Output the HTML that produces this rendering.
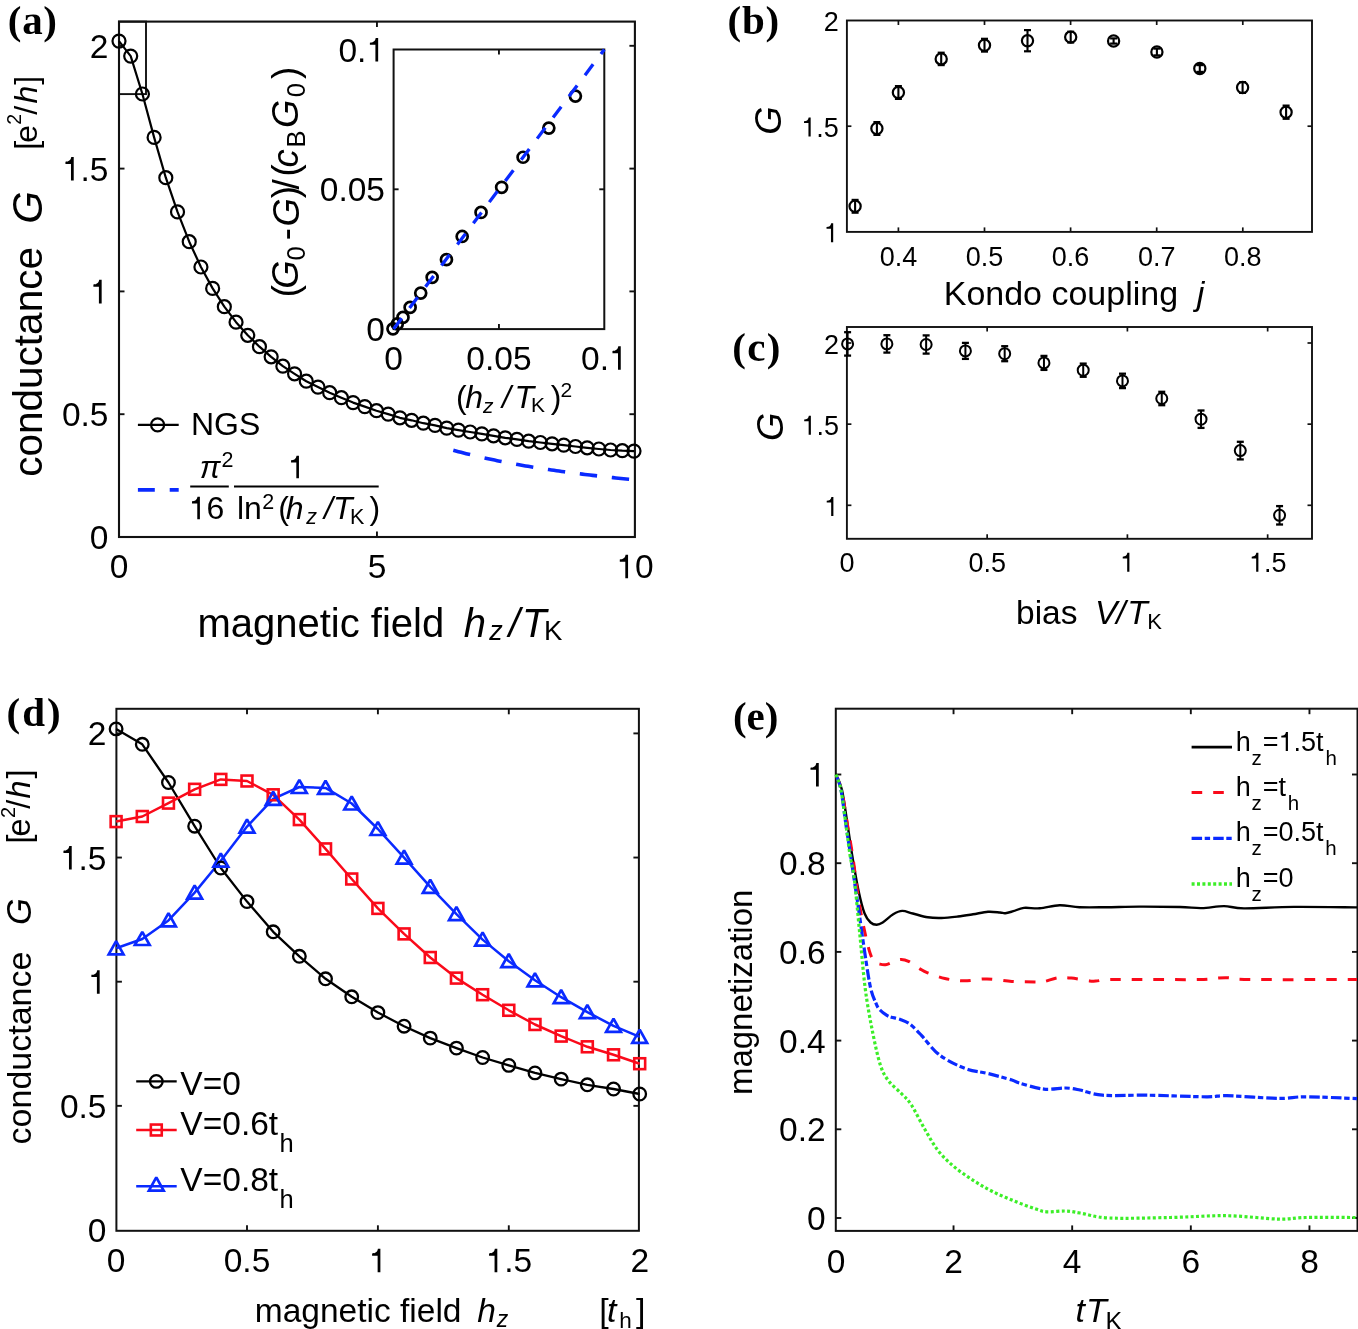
<!DOCTYPE html><html><head><meta charset="utf-8"><title>figure</title><style>html,body{margin:0;padding:0;background:#fff;overflow:hidden}svg{display:block;will-change:transform}</style></head><body>
<svg width="1358" height="1329" viewBox="0 0 1358 1329">
<defs><filter id="soft" x="0" y="0" width="1" height="1" color-interpolation-filters="sRGB"><feGaussianBlur stdDeviation="0.42"/></filter></defs>
<rect width="1358" height="1329" fill="#fff"/>
<g filter="url(#soft)">
<rect width="1358" height="1329" fill="#fff"/>
<rect x="119" y="21.6" width="515.9" height="515.4" fill="none" stroke="#111" stroke-width="2.1"/>
<line x1="376.95" y1="537" x2="376.95" y2="531.5" stroke="#111" stroke-width="1.9" />
<line x1="376.95" y1="21.6" x2="376.95" y2="27.1" stroke="#111" stroke-width="1.9" />
<line x1="119" y1="414.2" x2="124.5" y2="414.2" stroke="#111" stroke-width="1.9" />
<line x1="634.9" y1="414.2" x2="629.4" y2="414.2" stroke="#111" stroke-width="1.9" />
<line x1="119" y1="291.4" x2="124.5" y2="291.4" stroke="#111" stroke-width="1.9" />
<line x1="634.9" y1="291.4" x2="629.4" y2="291.4" stroke="#111" stroke-width="1.9" />
<line x1="119" y1="168.6" x2="124.5" y2="168.6" stroke="#111" stroke-width="1.9" />
<line x1="634.9" y1="168.6" x2="629.4" y2="168.6" stroke="#111" stroke-width="1.9" />
<line x1="119" y1="45.8" x2="124.5" y2="45.8" stroke="#111" stroke-width="1.9" />
<line x1="634.9" y1="45.8" x2="629.4" y2="45.8" stroke="#111" stroke-width="1.9" />
<text x="109.68" y="578.3" font-family='"Liberation Sans", sans-serif' font-size="33.5" fill="#000" xml:space="preserve">0</text>
<text x="367.63" y="578.3" font-family='"Liberation Sans", sans-serif' font-size="33.5" fill="#000" xml:space="preserve">5</text>
<path d="M628.06,554.75 L628.06,578.3 L625.31,578.3 L625.31,561.65 L619.79,561.65 L619.79,559.47 C622.97,559.34 625.05,558.2 625.58,554.75 Z" fill="#000"/>
<text x="634.9" y="578.3" font-family='"Liberation Sans", sans-serif' font-size="33.5" fill="#000" xml:space="preserve">0</text>
<text x="89.87" y="549" font-family='"Liberation Sans", sans-serif' font-size="33.5" fill="#000" xml:space="preserve">0</text>
<text x="61.93" y="426.2" font-family='"Liberation Sans", sans-serif' font-size="33.5" fill="#000" xml:space="preserve">0.5</text>
<path d="M101.66,279.85 L101.66,303.4 L98.91,303.4 L98.91,286.75 L93.39,286.75 L93.39,284.57 C96.57,284.44 98.65,283.3 99.18,279.85 Z" fill="#000"/>
<path d="M73.72,157.05 L73.72,180.6 L70.98,180.6 L70.98,163.95 L65.45,163.95 L65.45,161.77 C68.63,161.64 70.71,160.5 71.24,157.05 Z" fill="#000"/>
<text x="80.56" y="180.6" font-family='"Liberation Sans", sans-serif' font-size="33.5" fill="#000" xml:space="preserve">.5</text>
<text x="89.87" y="57.8" font-family='"Liberation Sans", sans-serif' font-size="33.5" fill="#000" xml:space="preserve">2</text>
<rect x="119" y="21.6" width="27" height="72.5" fill="none" stroke="#111" stroke-width="1.9"/>
<polyline points="119,41.1 130.7,56.1 142.41,94 154.11,137.4 165.82,177.7 177.52,211.9 189.23,241.7 200.93,267 212.64,288.4 224.34,306.7 236.05,322.2 247.75,335.3 259.45,346.7 271.16,356.8 282.86,366.2 294.57,373.8 306.27,381.2 317.98,387.1 329.68,392.7 341.39,397.7 353.09,402.6 364.8,406.6 376.5,410.7 388.2,414.1 399.91,417.8 411.61,420.3 423.32,423.2 435.02,425.4 446.73,428.1 458.43,430.1 470.14,432 481.84,433.9 493.55,435.8 505.25,437.8 516.95,439.4 528.66,441.2 540.36,442.5 552.07,443.8 563.77,445.1 575.48,446.5 587.18,447.8 598.89,449 610.59,450 622.3,450.7 634,451.1" fill="none" stroke="#000" stroke-width="2.2" stroke-linejoin="round" />
<circle cx="119" cy="41.1" r="6.5" fill="none" stroke="#000" stroke-width="2.2"/>
<circle cx="130.7" cy="56.1" r="6.5" fill="none" stroke="#000" stroke-width="2.2"/>
<circle cx="142.41" cy="94" r="6.5" fill="none" stroke="#000" stroke-width="2.2"/>
<circle cx="154.11" cy="137.4" r="6.5" fill="none" stroke="#000" stroke-width="2.2"/>
<circle cx="165.82" cy="177.7" r="6.5" fill="none" stroke="#000" stroke-width="2.2"/>
<circle cx="177.52" cy="211.9" r="6.5" fill="none" stroke="#000" stroke-width="2.2"/>
<circle cx="189.23" cy="241.7" r="6.5" fill="none" stroke="#000" stroke-width="2.2"/>
<circle cx="200.93" cy="267" r="6.5" fill="none" stroke="#000" stroke-width="2.2"/>
<circle cx="212.64" cy="288.4" r="6.5" fill="none" stroke="#000" stroke-width="2.2"/>
<circle cx="224.34" cy="306.7" r="6.5" fill="none" stroke="#000" stroke-width="2.2"/>
<circle cx="236.05" cy="322.2" r="6.5" fill="none" stroke="#000" stroke-width="2.2"/>
<circle cx="247.75" cy="335.3" r="6.5" fill="none" stroke="#000" stroke-width="2.2"/>
<circle cx="259.45" cy="346.7" r="6.5" fill="none" stroke="#000" stroke-width="2.2"/>
<circle cx="271.16" cy="356.8" r="6.5" fill="none" stroke="#000" stroke-width="2.2"/>
<circle cx="282.86" cy="366.2" r="6.5" fill="none" stroke="#000" stroke-width="2.2"/>
<circle cx="294.57" cy="373.8" r="6.5" fill="none" stroke="#000" stroke-width="2.2"/>
<circle cx="306.27" cy="381.2" r="6.5" fill="none" stroke="#000" stroke-width="2.2"/>
<circle cx="317.98" cy="387.1" r="6.5" fill="none" stroke="#000" stroke-width="2.2"/>
<circle cx="329.68" cy="392.7" r="6.5" fill="none" stroke="#000" stroke-width="2.2"/>
<circle cx="341.39" cy="397.7" r="6.5" fill="none" stroke="#000" stroke-width="2.2"/>
<circle cx="353.09" cy="402.6" r="6.5" fill="none" stroke="#000" stroke-width="2.2"/>
<circle cx="364.8" cy="406.6" r="6.5" fill="none" stroke="#000" stroke-width="2.2"/>
<circle cx="376.5" cy="410.7" r="6.5" fill="none" stroke="#000" stroke-width="2.2"/>
<circle cx="388.2" cy="414.1" r="6.5" fill="none" stroke="#000" stroke-width="2.2"/>
<circle cx="399.91" cy="417.8" r="6.5" fill="none" stroke="#000" stroke-width="2.2"/>
<circle cx="411.61" cy="420.3" r="6.5" fill="none" stroke="#000" stroke-width="2.2"/>
<circle cx="423.32" cy="423.2" r="6.5" fill="none" stroke="#000" stroke-width="2.2"/>
<circle cx="435.02" cy="425.4" r="6.5" fill="none" stroke="#000" stroke-width="2.2"/>
<circle cx="446.73" cy="428.1" r="6.5" fill="none" stroke="#000" stroke-width="2.2"/>
<circle cx="458.43" cy="430.1" r="6.5" fill="none" stroke="#000" stroke-width="2.2"/>
<circle cx="470.14" cy="432" r="6.5" fill="none" stroke="#000" stroke-width="2.2"/>
<circle cx="481.84" cy="433.9" r="6.5" fill="none" stroke="#000" stroke-width="2.2"/>
<circle cx="493.55" cy="435.8" r="6.5" fill="none" stroke="#000" stroke-width="2.2"/>
<circle cx="505.25" cy="437.8" r="6.5" fill="none" stroke="#000" stroke-width="2.2"/>
<circle cx="516.95" cy="439.4" r="6.5" fill="none" stroke="#000" stroke-width="2.2"/>
<circle cx="528.66" cy="441.2" r="6.5" fill="none" stroke="#000" stroke-width="2.2"/>
<circle cx="540.36" cy="442.5" r="6.5" fill="none" stroke="#000" stroke-width="2.2"/>
<circle cx="552.07" cy="443.8" r="6.5" fill="none" stroke="#000" stroke-width="2.2"/>
<circle cx="563.77" cy="445.1" r="6.5" fill="none" stroke="#000" stroke-width="2.2"/>
<circle cx="575.48" cy="446.5" r="6.5" fill="none" stroke="#000" stroke-width="2.2"/>
<circle cx="587.18" cy="447.8" r="6.5" fill="none" stroke="#000" stroke-width="2.2"/>
<circle cx="598.89" cy="449" r="6.5" fill="none" stroke="#000" stroke-width="2.2"/>
<circle cx="610.59" cy="450" r="6.5" fill="none" stroke="#000" stroke-width="2.2"/>
<circle cx="622.3" cy="450.7" r="6.5" fill="none" stroke="#000" stroke-width="2.2"/>
<circle cx="634" cy="451.1" r="6.5" fill="none" stroke="#000" stroke-width="2.2"/>
<polyline points="453.3,450.23 455.88,450.94 458.46,451.64 461.04,452.32 463.62,452.99 466.2,453.65 468.78,454.29 471.36,454.92 473.94,455.54 476.52,456.15 479.1,456.75 481.68,457.33 484.26,457.91 486.84,458.47 489.42,459.03 492,459.58 494.58,460.11 497.15,460.64 499.73,461.16 502.31,461.67 504.89,462.17 507.47,462.66 510.05,463.15 512.63,463.62 515.21,464.09 517.79,464.56 520.37,465.01 522.95,465.46 525.53,465.9 528.11,466.33 530.69,466.76 533.27,467.18 535.85,467.59 538.43,468 541.01,468.4 543.59,468.8 546.17,469.19 548.74,469.57 551.32,469.95 553.9,470.33 556.48,470.7 559.06,471.06 561.64,471.42 564.22,471.77 566.8,472.12 569.38,472.46 571.96,472.8 574.54,473.14 577.12,473.47 579.7,473.79 582.28,474.11 584.86,474.43 587.44,474.74 590.02,475.05 592.6,475.36 595.18,475.66 597.76,475.95 600.33,476.25 602.91,476.54 605.49,476.82 608.07,477.11 610.65,477.38 613.23,477.66 615.81,477.93 618.39,478.2 620.97,478.47 623.55,478.73 626.13,478.99 628.71,479.25 631.29,479.5 633.87,479.75" fill="none" stroke="#0a2aff" stroke-width="3.6" stroke-linejoin="round" stroke-dasharray="17.4 14.8"/>
<line x1="137.9" y1="424.9" x2="178.7" y2="424.9" stroke="#000" stroke-width="2.2" />
<circle cx="157.6" cy="424.9" r="6.5" fill="none" stroke="#000" stroke-width="2.2"/>
<text x="190.97" y="435.3" font-family='"Liberation Sans", sans-serif' font-size="32" fill="#000" xml:space="preserve">NGS</text>
<line x1="137.9" y1="489.9" x2="178.7" y2="489.9" stroke="#0a2aff" stroke-width="3.6" stroke-dasharray="16.9 14.9"/>
<line x1="190.2" y1="486.5" x2="228.8" y2="486.5" stroke="#000" stroke-width="2.0" />
<text x="199.82" y="477.5" font-family='"Liberation Sans", sans-serif' font-size="31" fill="#000" font-style="italic" xml:space="preserve">π</text>
<text x="221.52" y="466.6" font-family='"Liberation Sans", sans-serif' font-size="21.5" fill="#000" xml:space="preserve">2</text>
<path d="M199.9,496.8 L199.9,519.3 L197.28,519.3 L197.28,503.4 L192,503.4 L192,501.32 C195.04,501.19 197.02,500.1 197.54,496.8 Z" fill="#000"/>
<text x="206.44" y="519.3" font-family='"Liberation Sans", sans-serif' font-size="32" fill="#000" xml:space="preserve">6</text>
<line x1="234" y1="486.5" x2="378.7" y2="486.5" stroke="#000" stroke-width="2.0" />
<path d="M298.95,455.8 L298.95,478.3 L296.33,478.3 L296.33,462.4 L291.05,462.4 L291.05,460.32 C294.09,460.19 296.07,459.1 296.58,455.8 Z" fill="#000"/>
<text x="236.94" y="519.3" font-family='"Liberation Sans", sans-serif' font-size="32" fill="#000" xml:space="preserve">ln</text>
<text x="262.32" y="509.3" font-family='"Liberation Sans", sans-serif' font-size="21.5" fill="#000" xml:space="preserve">2</text>
<text x="278.22" y="519.3" font-family='"Liberation Sans", sans-serif' font-size="32" fill="#000" xml:space="preserve">(</text>
<text x="285.77" y="519.3" font-family='"Liberation Sans", sans-serif' font-size="32" fill="#000" font-style="italic" xml:space="preserve">h</text>
<text x="306.33" y="523.9" font-family='"Liberation Sans", sans-serif' font-size="21.5" fill="#000" font-style="italic" xml:space="preserve">z</text>
<text x="323.91" y="519.3" font-family='"Liberation Sans", sans-serif' font-size="32" fill="#000" font-style="italic" xml:space="preserve">/</text>
<text x="332.93" y="519.3" font-family='"Liberation Sans", sans-serif' font-size="32" fill="#000" font-style="italic" xml:space="preserve">T</text>
<text x="349.94" y="523.9" font-family='"Liberation Sans", sans-serif' font-size="21.5" fill="#000" xml:space="preserve">K</text>
<text x="369.61" y="519.3" font-family='"Liberation Sans", sans-serif' font-size="32" fill="#000" xml:space="preserve">)</text>
<text x="197.44" y="636.5" font-family='"Liberation Sans", sans-serif' font-size="40" fill="#000" xml:space="preserve">magnetic field</text>
<text x="463.74" y="636.5" font-family='"Liberation Sans", sans-serif' font-size="40" fill="#000" font-style="italic" xml:space="preserve">h</text>
<text x="489.36" y="639.5" font-family='"Liberation Sans", sans-serif' font-size="27" fill="#000" font-style="italic" xml:space="preserve">z</text>
<text x="508.77" y="636.5" font-family='"Liberation Sans", sans-serif' font-size="40" fill="#000" font-style="italic" xml:space="preserve">/</text>
<text x="522.01" y="636.5" font-family='"Liberation Sans", sans-serif' font-size="40" fill="#000" font-style="italic" xml:space="preserve">T</text>
<text x="543.94" y="639.5" font-family='"Liberation Sans", sans-serif' font-size="27.5" fill="#000" xml:space="preserve">K</text>
<g transform="rotate(-90 41.7 476.72)">
<text x="41.7" y="476.72" font-family='"Liberation Sans", sans-serif' font-size="40.5" fill="#000" xml:space="preserve">conductance</text>
</g>
<g transform="rotate(-90 41.8 223.67)">
<text x="41.8" y="223.67" font-family='"Liberation Sans", sans-serif' font-size="42" fill="#000" font-style="italic" xml:space="preserve">G</text>
</g>
<g transform="rotate(-90 36.8 149.78)">
<text x="36.8" y="149.78" font-family='"Liberation Sans", sans-serif' font-size="32" fill="#000" xml:space="preserve">[</text>
</g>
<g transform="rotate(-90 36.8 142.86)">
<text x="36.8" y="142.86" font-family='"Liberation Sans", sans-serif' font-size="32" fill="#000" xml:space="preserve">e</text>
</g>
<g transform="rotate(-90 20.9 124.68)">
<text x="20.9" y="124.68" font-family='"Liberation Sans", sans-serif' font-size="19.5" fill="#000" xml:space="preserve">2</text>
</g>
<g transform="rotate(-90 36.8 114.7)">
<text x="36.8" y="114.7" font-family='"Liberation Sans", sans-serif' font-size="32" fill="#000" xml:space="preserve">/</text>
</g>
<g transform="rotate(-90 36.8 103.53)">
<text x="36.8" y="103.53" font-family='"Liberation Sans", sans-serif' font-size="32" fill="#000" font-style="italic" xml:space="preserve">h</text>
</g>
<g transform="rotate(-90 36.8 84.85)">
<text x="36.8" y="84.85" font-family='"Liberation Sans", sans-serif' font-size="32" fill="#000" xml:space="preserve">]</text>
</g>
<text x="7.8" y="33.6" font-family='"Liberation Serif", serif' font-size="41" fill="#000" font-weight="bold" letter-spacing="0.7" xml:space="preserve">(a)</text>
<rect x="393.6" y="49.5" width="210.7" height="279.6" fill="#fff" stroke="#111" stroke-width="2.0"/>
<line x1="498.95" y1="329.1" x2="498.95" y2="324.1" stroke="#111" stroke-width="1.9" />
<line x1="498.95" y1="49.5" x2="498.95" y2="54.5" stroke="#111" stroke-width="1.9" />
<line x1="393.6" y1="189.3" x2="398.6" y2="189.3" stroke="#111" stroke-width="1.9" />
<line x1="604.3" y1="189.3" x2="599.3" y2="189.3" stroke="#111" stroke-width="1.9" />
<circle cx="392.97" cy="328.84" r="5.5" fill="none" stroke="#000" stroke-width="2.7"/>
<circle cx="397.26" cy="323.97" r="5.5" fill="none" stroke="#000" stroke-width="2.7"/>
<circle cx="402.98" cy="317.4" r="5.5" fill="none" stroke="#000" stroke-width="2.7"/>
<circle cx="410.13" cy="307.39" r="5.5" fill="none" stroke="#000" stroke-width="2.7"/>
<circle cx="420.71" cy="293.09" r="5.5" fill="none" stroke="#000" stroke-width="2.7"/>
<circle cx="432.15" cy="277.36" r="5.5" fill="none" stroke="#000" stroke-width="2.7"/>
<circle cx="446.45" cy="259.63" r="5.5" fill="none" stroke="#000" stroke-width="2.7"/>
<circle cx="462.17" cy="236.47" r="5.5" fill="none" stroke="#000" stroke-width="2.7"/>
<circle cx="481.05" cy="212.45" r="5.5" fill="none" stroke="#000" stroke-width="2.7"/>
<circle cx="501.64" cy="187.29" r="5.5" fill="none" stroke="#000" stroke-width="2.7"/>
<circle cx="523.08" cy="157.26" r="5.5" fill="none" stroke="#000" stroke-width="2.7"/>
<circle cx="548.82" cy="128.09" r="5.5" fill="none" stroke="#000" stroke-width="2.7"/>
<circle cx="575.41" cy="96.07" r="5.5" fill="none" stroke="#000" stroke-width="2.7"/>
<line x1="393.6" y1="329.1" x2="604.3" y2="49.5" stroke="#0a2aff" stroke-width="3.3" stroke-dasharray="13.5 13"/>
<text x="384.28" y="369.8" font-family='"Liberation Sans", sans-serif' font-size="33.5" fill="#000" xml:space="preserve">0</text>
<text x="466.35" y="369.8" font-family='"Liberation Sans", sans-serif' font-size="33.5" fill="#000" xml:space="preserve">0.05</text>
<text x="581.02" y="369.8" font-family='"Liberation Sans", sans-serif' font-size="33.5" fill="#000" xml:space="preserve">0.</text>
<path d="M620.75,346.25 L620.75,369.8 L618,369.8 L618,353.15 L612.47,353.15 L612.47,350.97 C615.65,350.84 617.73,349.7 618.27,346.25 Z" fill="#000"/>
<text x="366.37" y="341.1" font-family='"Liberation Sans", sans-serif' font-size="33.5" fill="#000" xml:space="preserve">0</text>
<text x="319.8" y="201.3" font-family='"Liberation Sans", sans-serif' font-size="33.5" fill="#000" xml:space="preserve">0.05</text>
<text x="338.43" y="61.5" font-family='"Liberation Sans", sans-serif' font-size="33.5" fill="#000" xml:space="preserve">0.</text>
<path d="M378.16,37.95 L378.16,61.5 L375.41,61.5 L375.41,44.85 L369.89,44.85 L369.89,42.67 C373.07,42.54 375.15,41.4 375.68,37.95 Z" fill="#000"/>
<text x="456.12" y="408.1" font-family='"Liberation Sans", sans-serif' font-size="32" fill="#000" xml:space="preserve">(</text>
<text x="465.17" y="408.1" font-family='"Liberation Sans", sans-serif' font-size="32" fill="#000" font-style="italic" xml:space="preserve">h</text>
<text x="483.12" y="412.9" font-family='"Liberation Sans", sans-serif' font-size="21" fill="#000" font-style="italic" xml:space="preserve">z</text>
<text x="502.01" y="408.1" font-family='"Liberation Sans", sans-serif' font-size="32" fill="#000" font-style="italic" xml:space="preserve">/</text>
<text x="514.52" y="408.1" font-family='"Liberation Sans", sans-serif' font-size="32" fill="#000" font-style="italic" xml:space="preserve">T</text>
<text x="530.98" y="412.3" font-family='"Liberation Sans", sans-serif' font-size="21" fill="#000" xml:space="preserve">K</text>
<text x="550.71" y="408.1" font-family='"Liberation Sans", sans-serif' font-size="32" fill="#000" xml:space="preserve">)</text>
<text x="560.44" y="396.6" font-family='"Liberation Sans", sans-serif' font-size="21" fill="#000" xml:space="preserve">2</text>
<g transform="rotate(-90 298.5 297.36)">
<text x="298.5" y="297.36" font-family='"Liberation Sans", sans-serif' font-size="36.5" fill="#000" xml:space="preserve">(</text>
</g>
<g transform="rotate(-90 298.5 288.7)">
<text x="298.5" y="288.7" font-family='"Liberation Sans", sans-serif' font-size="36.5" fill="#000" font-style="italic" xml:space="preserve">G</text>
</g>
<g transform="rotate(-90 305.3 260.4)">
<text x="305.3" y="260.4" font-family='"Liberation Sans", sans-serif' font-size="25.5" fill="#000" xml:space="preserve">0</text>
</g>
<g transform="rotate(-90 298.5 240.32)">
<text x="298.5" y="240.32" font-family='"Liberation Sans", sans-serif' font-size="36.5" fill="#000" xml:space="preserve">-</text>
</g>
<g transform="rotate(-90 298.5 226.5)">
<text x="298.5" y="226.5" font-family='"Liberation Sans", sans-serif' font-size="36.5" fill="#000" font-style="italic" xml:space="preserve">G</text>
</g>
<g transform="rotate(-90 298.5 198.21)">
<text x="298.5" y="198.21" font-family='"Liberation Sans", sans-serif' font-size="36.5" fill="#000" xml:space="preserve">)</text>
</g>
<g transform="rotate(-90 298.5 189.5)">
<text x="298.5" y="189.5" font-family='"Liberation Sans", sans-serif' font-size="36.5" fill="#000" xml:space="preserve">/</text>
</g>
<g transform="rotate(-90 298.5 176.46)">
<text x="298.5" y="176.46" font-family='"Liberation Sans", sans-serif' font-size="36.5" fill="#000" xml:space="preserve">(</text>
</g>
<g transform="rotate(-90 298.5 167.49)">
<text x="298.5" y="167.49" font-family='"Liberation Sans", sans-serif' font-size="36.5" fill="#000" font-style="italic" xml:space="preserve">c</text>
</g>
<g transform="rotate(-90 305.5 147.39)">
<text x="305.5" y="147.39" font-family='"Liberation Sans", sans-serif' font-size="25.5" fill="#000" xml:space="preserve">B</text>
</g>
<g transform="rotate(-90 298.5 128.1)">
<text x="298.5" y="128.1" font-family='"Liberation Sans", sans-serif' font-size="36.5" fill="#000" font-style="italic" xml:space="preserve">G</text>
</g>
<g transform="rotate(-90 305.3 97.3)">
<text x="305.3" y="97.3" font-family='"Liberation Sans", sans-serif' font-size="25.5" fill="#000" xml:space="preserve">0</text>
</g>
<g transform="rotate(-90 298.5 79.11)">
<text x="298.5" y="79.11" font-family='"Liberation Sans", sans-serif' font-size="36.5" fill="#000" xml:space="preserve">)</text>
</g>
<rect x="846.9" y="20.5" width="465.1" height="211.4" fill="none" stroke="#111" stroke-width="1.9"/>
<line x1="898.4" y1="231.9" x2="898.4" y2="227.4" stroke="#111" stroke-width="1.7" />
<line x1="898.4" y1="20.5" x2="898.4" y2="25" stroke="#111" stroke-width="1.7" />
<line x1="984.5" y1="231.9" x2="984.5" y2="227.4" stroke="#111" stroke-width="1.7" />
<line x1="984.5" y1="20.5" x2="984.5" y2="25" stroke="#111" stroke-width="1.7" />
<line x1="1070.6" y1="231.9" x2="1070.6" y2="227.4" stroke="#111" stroke-width="1.7" />
<line x1="1070.6" y1="20.5" x2="1070.6" y2="25" stroke="#111" stroke-width="1.7" />
<line x1="1156.7" y1="231.9" x2="1156.7" y2="227.4" stroke="#111" stroke-width="1.7" />
<line x1="1156.7" y1="20.5" x2="1156.7" y2="25" stroke="#111" stroke-width="1.7" />
<line x1="1242.8" y1="231.9" x2="1242.8" y2="227.4" stroke="#111" stroke-width="1.7" />
<line x1="1242.8" y1="20.5" x2="1242.8" y2="25" stroke="#111" stroke-width="1.7" />
<line x1="846.9" y1="126.2" x2="851.4" y2="126.2" stroke="#111" stroke-width="1.7" />
<line x1="1312" y1="126.2" x2="1307.5" y2="126.2" stroke="#111" stroke-width="1.7" />
<text x="879.63" y="265.5" font-family='"Liberation Sans", sans-serif' font-size="27" fill="#000" xml:space="preserve">0.4</text>
<text x="965.73" y="265.5" font-family='"Liberation Sans", sans-serif' font-size="27" fill="#000" xml:space="preserve">0.5</text>
<text x="1051.83" y="265.5" font-family='"Liberation Sans", sans-serif' font-size="27" fill="#000" xml:space="preserve">0.6</text>
<text x="1137.93" y="265.5" font-family='"Liberation Sans", sans-serif' font-size="27" fill="#000" xml:space="preserve">0.7</text>
<text x="1224.03" y="265.5" font-family='"Liberation Sans", sans-serif' font-size="27" fill="#000" xml:space="preserve">0.8</text>
<path d="M833.19,223.22 L833.19,242.2 L830.97,242.2 L830.97,228.78 L826.52,228.78 L826.52,227.03 C829.08,226.92 830.76,226 831.19,223.22 Z" fill="#000"/>
<path d="M810.67,117.52 L810.67,136.5 L808.46,136.5 L808.46,123.08 L804,123.08 L804,121.33 C806.57,121.22 808.24,120.3 808.67,117.52 Z" fill="#000"/>
<text x="816.18" y="136.5" font-family='"Liberation Sans", sans-serif' font-size="27" fill="#000" xml:space="preserve">.5</text>
<text x="823.68" y="30.8" font-family='"Liberation Sans", sans-serif' font-size="27" fill="#000" xml:space="preserve">2</text>
<line x1="855.1" y1="199.9" x2="855.1" y2="212.7" stroke="#000" stroke-width="2.1" />
<line x1="851.6" y1="199.9" x2="858.6" y2="199.9" stroke="#000" stroke-width="2.2" />
<line x1="851.6" y1="212.7" x2="858.6" y2="212.7" stroke="#000" stroke-width="2.2" />
<circle cx="855.1" cy="206.3" r="5.6" fill="none" stroke="#000" stroke-width="2.2"/>
<line x1="876.9" y1="122.1" x2="876.9" y2="134.9" stroke="#000" stroke-width="2.1" />
<line x1="873.4" y1="122.1" x2="880.4" y2="122.1" stroke="#000" stroke-width="2.2" />
<line x1="873.4" y1="134.9" x2="880.4" y2="134.9" stroke="#000" stroke-width="2.2" />
<circle cx="876.9" cy="128.5" r="5.6" fill="none" stroke="#000" stroke-width="2.2"/>
<line x1="898.4" y1="86.1" x2="898.4" y2="98.9" stroke="#000" stroke-width="2.1" />
<line x1="894.9" y1="86.1" x2="901.9" y2="86.1" stroke="#000" stroke-width="2.2" />
<line x1="894.9" y1="98.9" x2="901.9" y2="98.9" stroke="#000" stroke-width="2.2" />
<circle cx="898.4" cy="92.5" r="5.6" fill="none" stroke="#000" stroke-width="2.2"/>
<line x1="941.2" y1="52.7" x2="941.2" y2="65.1" stroke="#000" stroke-width="2.1" />
<line x1="937.7" y1="52.7" x2="944.7" y2="52.7" stroke="#000" stroke-width="2.2" />
<line x1="937.7" y1="65.1" x2="944.7" y2="65.1" stroke="#000" stroke-width="2.2" />
<circle cx="941.2" cy="58.9" r="5.6" fill="none" stroke="#000" stroke-width="2.2"/>
<line x1="984.5" y1="38.8" x2="984.5" y2="51.6" stroke="#000" stroke-width="2.1" />
<line x1="981" y1="38.8" x2="988" y2="38.8" stroke="#000" stroke-width="2.2" />
<line x1="981" y1="51.6" x2="988" y2="51.6" stroke="#000" stroke-width="2.2" />
<circle cx="984.5" cy="45.2" r="5.6" fill="none" stroke="#000" stroke-width="2.2"/>
<line x1="1027.5" y1="30.1" x2="1027.5" y2="51.3" stroke="#000" stroke-width="2.1" />
<line x1="1024" y1="30.1" x2="1031" y2="30.1" stroke="#000" stroke-width="2.2" />
<line x1="1024" y1="51.3" x2="1031" y2="51.3" stroke="#000" stroke-width="2.2" />
<circle cx="1027.5" cy="40.7" r="5.6" fill="none" stroke="#000" stroke-width="2.2"/>
<line x1="1070.7" y1="31.7" x2="1070.7" y2="42.5" stroke="#000" stroke-width="2.1" />
<line x1="1067.2" y1="31.7" x2="1074.2" y2="31.7" stroke="#000" stroke-width="2.2" />
<line x1="1067.2" y1="42.5" x2="1074.2" y2="42.5" stroke="#000" stroke-width="2.2" />
<circle cx="1070.7" cy="37.1" r="5.6" fill="none" stroke="#000" stroke-width="2.2"/>
<line x1="1113.6" y1="38.4" x2="1113.6" y2="43.6" stroke="#000" stroke-width="2.1" />
<line x1="1110.1" y1="38.4" x2="1117.1" y2="38.4" stroke="#000" stroke-width="2.2" />
<line x1="1110.1" y1="43.6" x2="1117.1" y2="43.6" stroke="#000" stroke-width="2.2" />
<circle cx="1113.6" cy="41" r="5.6" fill="none" stroke="#000" stroke-width="2.2"/>
<line x1="1156.9" y1="48.6" x2="1156.9" y2="55.4" stroke="#000" stroke-width="2.1" />
<line x1="1153.4" y1="48.6" x2="1160.4" y2="48.6" stroke="#000" stroke-width="2.2" />
<line x1="1153.4" y1="55.4" x2="1160.4" y2="55.4" stroke="#000" stroke-width="2.2" />
<circle cx="1156.9" cy="52" r="5.6" fill="none" stroke="#000" stroke-width="2.2"/>
<line x1="1199.8" y1="65.1" x2="1199.8" y2="71.9" stroke="#000" stroke-width="2.1" />
<line x1="1196.3" y1="65.1" x2="1203.3" y2="65.1" stroke="#000" stroke-width="2.2" />
<line x1="1196.3" y1="71.9" x2="1203.3" y2="71.9" stroke="#000" stroke-width="2.2" />
<circle cx="1199.8" cy="68.5" r="5.6" fill="none" stroke="#000" stroke-width="2.2"/>
<line x1="1242.6" y1="82.1" x2="1242.6" y2="92.9" stroke="#000" stroke-width="2.1" />
<line x1="1239.1" y1="82.1" x2="1246.1" y2="82.1" stroke="#000" stroke-width="2.2" />
<line x1="1239.1" y1="92.9" x2="1246.1" y2="92.9" stroke="#000" stroke-width="2.2" />
<circle cx="1242.6" cy="87.5" r="5.6" fill="none" stroke="#000" stroke-width="2.2"/>
<line x1="1286.1" y1="105.6" x2="1286.1" y2="118.8" stroke="#000" stroke-width="2.1" />
<line x1="1282.6" y1="105.6" x2="1289.6" y2="105.6" stroke="#000" stroke-width="2.2" />
<line x1="1282.6" y1="118.8" x2="1289.6" y2="118.8" stroke="#000" stroke-width="2.2" />
<circle cx="1286.1" cy="112.2" r="5.6" fill="none" stroke="#000" stroke-width="2.2"/>
<text x="943.71" y="305.4" font-family='"Liberation Sans", sans-serif' font-size="34" fill="#000" xml:space="preserve">Kondo coupling</text>
<text x="1196.7" y="305.4" font-family='"Liberation Sans", sans-serif' font-size="34" fill="#000" font-style="italic" xml:space="preserve">j</text>
<g transform="rotate(-90 781.2 134.8)">
<text x="781.2" y="134.8" font-family='"Liberation Sans", sans-serif' font-size="36.5" fill="#000" font-style="italic" xml:space="preserve">G</text>
</g>
<text x="727.5" y="33.8" font-family='"Liberation Serif", serif' font-size="41" fill="#000" font-weight="bold" letter-spacing="0.8" xml:space="preserve">(b)</text>
<rect x="846.9" y="327" width="465.1" height="211.8" fill="none" stroke="#111" stroke-width="1.9"/>
<line x1="987.15" y1="538.8" x2="987.15" y2="534.3" stroke="#111" stroke-width="1.7" />
<line x1="987.15" y1="327" x2="987.15" y2="331.5" stroke="#111" stroke-width="1.7" />
<line x1="1127.4" y1="538.8" x2="1127.4" y2="534.3" stroke="#111" stroke-width="1.7" />
<line x1="1127.4" y1="327" x2="1127.4" y2="331.5" stroke="#111" stroke-width="1.7" />
<line x1="1267.65" y1="538.8" x2="1267.65" y2="534.3" stroke="#111" stroke-width="1.7" />
<line x1="1267.65" y1="327" x2="1267.65" y2="331.5" stroke="#111" stroke-width="1.7" />
<line x1="846.9" y1="505.3" x2="851.4" y2="505.3" stroke="#111" stroke-width="1.7" />
<line x1="1312" y1="505.3" x2="1307.5" y2="505.3" stroke="#111" stroke-width="1.7" />
<line x1="846.9" y1="424.15" x2="851.4" y2="424.15" stroke="#111" stroke-width="1.7" />
<line x1="1312" y1="424.15" x2="1307.5" y2="424.15" stroke="#111" stroke-width="1.7" />
<line x1="846.9" y1="343" x2="851.4" y2="343" stroke="#111" stroke-width="1.7" />
<line x1="1312" y1="343" x2="1307.5" y2="343" stroke="#111" stroke-width="1.7" />
<text x="839.39" y="571.8" font-family='"Liberation Sans", sans-serif' font-size="27" fill="#000" xml:space="preserve">0</text>
<text x="968.38" y="571.8" font-family='"Liberation Sans", sans-serif' font-size="27" fill="#000" xml:space="preserve">0.5</text>
<path d="M1129.4,552.82 L1129.4,571.8 L1127.18,571.8 L1127.18,558.38 L1122.73,558.38 L1122.73,556.63 C1125.29,556.52 1126.97,555.6 1127.4,552.82 Z" fill="#000"/>
<path d="M1258.39,552.82 L1258.39,571.8 L1256.17,571.8 L1256.17,558.38 L1251.72,558.38 L1251.72,556.63 C1254.28,556.52 1255.96,555.6 1256.39,552.82 Z" fill="#000"/>
<text x="1263.9" y="571.8" font-family='"Liberation Sans", sans-serif' font-size="27" fill="#000" xml:space="preserve">.5</text>
<path d="M833.39,496.92 L833.39,515.9 L831.17,515.9 L831.17,502.48 L826.72,502.48 L826.72,500.73 C829.28,500.62 830.96,499.7 831.39,496.92 Z" fill="#000"/>
<path d="M810.87,415.77 L810.87,434.75 L808.66,434.75 L808.66,421.33 L804.2,421.33 L804.2,419.58 C806.77,419.47 808.44,418.55 808.87,415.77 Z" fill="#000"/>
<text x="816.38" y="434.75" font-family='"Liberation Sans", sans-serif' font-size="27" fill="#000" xml:space="preserve">.5</text>
<text x="823.88" y="353.6" font-family='"Liberation Sans", sans-serif' font-size="27" fill="#000" xml:space="preserve">2</text>
<line x1="847.6" y1="332.2" x2="847.6" y2="355.6" stroke="#000" stroke-width="2.0" />
<line x1="844.1" y1="332.2" x2="851.1" y2="332.2" stroke="#000" stroke-width="2.3" />
<line x1="844.1" y1="355.6" x2="851.1" y2="355.6" stroke="#000" stroke-width="2.3" />
<circle cx="847.6" cy="343.9" r="5.5" fill="none" stroke="#000" stroke-width="2.0"/>
<line x1="886.87" y1="335.2" x2="886.87" y2="352.6" stroke="#000" stroke-width="2.0" />
<line x1="883.37" y1="335.2" x2="890.37" y2="335.2" stroke="#000" stroke-width="2.3" />
<line x1="883.37" y1="352.6" x2="890.37" y2="352.6" stroke="#000" stroke-width="2.3" />
<circle cx="886.87" cy="343.9" r="5.5" fill="none" stroke="#000" stroke-width="2.0"/>
<line x1="926.14" y1="335.4" x2="926.14" y2="353.6" stroke="#000" stroke-width="2.0" />
<line x1="922.64" y1="335.4" x2="929.64" y2="335.4" stroke="#000" stroke-width="2.3" />
<line x1="922.64" y1="353.6" x2="929.64" y2="353.6" stroke="#000" stroke-width="2.3" />
<circle cx="926.14" cy="344.5" r="5.5" fill="none" stroke="#000" stroke-width="2.0"/>
<line x1="965.41" y1="342.9" x2="965.41" y2="358.9" stroke="#000" stroke-width="2.0" />
<line x1="961.91" y1="342.9" x2="968.91" y2="342.9" stroke="#000" stroke-width="2.3" />
<line x1="961.91" y1="358.9" x2="968.91" y2="358.9" stroke="#000" stroke-width="2.3" />
<circle cx="965.41" cy="350.9" r="5.5" fill="none" stroke="#000" stroke-width="2.0"/>
<line x1="1004.68" y1="346.2" x2="1004.68" y2="361.2" stroke="#000" stroke-width="2.0" />
<line x1="1001.18" y1="346.2" x2="1008.18" y2="346.2" stroke="#000" stroke-width="2.3" />
<line x1="1001.18" y1="361.2" x2="1008.18" y2="361.2" stroke="#000" stroke-width="2.3" />
<circle cx="1004.68" cy="353.7" r="5.5" fill="none" stroke="#000" stroke-width="2.0"/>
<line x1="1043.95" y1="355.9" x2="1043.95" y2="369.9" stroke="#000" stroke-width="2.0" />
<line x1="1040.45" y1="355.9" x2="1047.45" y2="355.9" stroke="#000" stroke-width="2.3" />
<line x1="1040.45" y1="369.9" x2="1047.45" y2="369.9" stroke="#000" stroke-width="2.3" />
<circle cx="1043.95" cy="362.9" r="5.5" fill="none" stroke="#000" stroke-width="2.0"/>
<line x1="1083.22" y1="363.6" x2="1083.22" y2="376.8" stroke="#000" stroke-width="2.0" />
<line x1="1079.72" y1="363.6" x2="1086.72" y2="363.6" stroke="#000" stroke-width="2.3" />
<line x1="1079.72" y1="376.8" x2="1086.72" y2="376.8" stroke="#000" stroke-width="2.3" />
<circle cx="1083.22" cy="370.2" r="5.5" fill="none" stroke="#000" stroke-width="2.0"/>
<line x1="1122.49" y1="373.7" x2="1122.49" y2="388.1" stroke="#000" stroke-width="2.0" />
<line x1="1118.99" y1="373.7" x2="1125.99" y2="373.7" stroke="#000" stroke-width="2.3" />
<line x1="1118.99" y1="388.1" x2="1125.99" y2="388.1" stroke="#000" stroke-width="2.3" />
<circle cx="1122.49" cy="380.9" r="5.5" fill="none" stroke="#000" stroke-width="2.0"/>
<line x1="1161.76" y1="391.8" x2="1161.76" y2="405.2" stroke="#000" stroke-width="2.0" />
<line x1="1158.26" y1="391.8" x2="1165.26" y2="391.8" stroke="#000" stroke-width="2.3" />
<line x1="1158.26" y1="405.2" x2="1165.26" y2="405.2" stroke="#000" stroke-width="2.3" />
<circle cx="1161.76" cy="398.5" r="5.5" fill="none" stroke="#000" stroke-width="2.0"/>
<line x1="1201.03" y1="410.5" x2="1201.03" y2="427.9" stroke="#000" stroke-width="2.0" />
<line x1="1197.53" y1="410.5" x2="1204.53" y2="410.5" stroke="#000" stroke-width="2.3" />
<line x1="1197.53" y1="427.9" x2="1204.53" y2="427.9" stroke="#000" stroke-width="2.3" />
<circle cx="1201.03" cy="419.2" r="5.5" fill="none" stroke="#000" stroke-width="2.0"/>
<line x1="1240.3" y1="441.8" x2="1240.3" y2="459.4" stroke="#000" stroke-width="2.0" />
<line x1="1236.8" y1="441.8" x2="1243.8" y2="441.8" stroke="#000" stroke-width="2.3" />
<line x1="1236.8" y1="459.4" x2="1243.8" y2="459.4" stroke="#000" stroke-width="2.3" />
<circle cx="1240.3" cy="450.6" r="5.5" fill="none" stroke="#000" stroke-width="2.0"/>
<line x1="1279.57" y1="506.1" x2="1279.57" y2="524.5" stroke="#000" stroke-width="2.0" />
<line x1="1276.07" y1="506.1" x2="1283.07" y2="506.1" stroke="#000" stroke-width="2.3" />
<line x1="1276.07" y1="524.5" x2="1283.07" y2="524.5" stroke="#000" stroke-width="2.3" />
<circle cx="1279.57" cy="515.3" r="5.5" fill="none" stroke="#000" stroke-width="2.0"/>
<text x="1016.04" y="624.2" font-family='"Liberation Sans", sans-serif' font-size="33.5" fill="#000" xml:space="preserve">bias</text>
<text x="1094.9" y="624.2" font-family='"Liberation Sans", sans-serif' font-size="33.5" fill="#000" font-style="italic" xml:space="preserve">V</text>
<text x="1116.2" y="624.2" font-family='"Liberation Sans", sans-serif' font-size="33.5" fill="#000" font-style="italic" xml:space="preserve">/</text>
<text x="1127.19" y="624.2" font-family='"Liberation Sans", sans-serif' font-size="33.5" fill="#000" font-style="italic" xml:space="preserve">T</text>
<text x="1147.2" y="628.9" font-family='"Liberation Sans", sans-serif' font-size="22" fill="#000" xml:space="preserve">K</text>
<g transform="rotate(-90 783.2 441)">
<text x="783.2" y="441" font-family='"Liberation Sans", sans-serif' font-size="36.5" fill="#000" font-style="italic" xml:space="preserve">G</text>
</g>
<text x="732.3" y="360.8" font-family='"Liberation Serif", serif' font-size="41" fill="#000" font-weight="bold" letter-spacing="1.3" xml:space="preserve">(c)</text>
<rect x="116.4" y="708.8" width="522.5" height="522" fill="none" stroke="#111" stroke-width="2.0"/>
<line x1="247" y1="1230.8" x2="247" y2="1225.3" stroke="#111" stroke-width="1.9" />
<line x1="247" y1="708.8" x2="247" y2="714.3" stroke="#111" stroke-width="1.9" />
<line x1="377.9" y1="1230.8" x2="377.9" y2="1225.3" stroke="#111" stroke-width="1.9" />
<line x1="377.9" y1="708.8" x2="377.9" y2="714.3" stroke="#111" stroke-width="1.9" />
<line x1="508.8" y1="1230.8" x2="508.8" y2="1225.3" stroke="#111" stroke-width="1.9" />
<line x1="508.8" y1="708.8" x2="508.8" y2="714.3" stroke="#111" stroke-width="1.9" />
<line x1="116.4" y1="1105.85" x2="121.9" y2="1105.85" stroke="#111" stroke-width="1.9" />
<line x1="638.9" y1="1105.85" x2="633.4" y2="1105.85" stroke="#111" stroke-width="1.9" />
<line x1="116.4" y1="981.7" x2="121.9" y2="981.7" stroke="#111" stroke-width="1.9" />
<line x1="638.9" y1="981.7" x2="633.4" y2="981.7" stroke="#111" stroke-width="1.9" />
<line x1="116.4" y1="857.55" x2="121.9" y2="857.55" stroke="#111" stroke-width="1.9" />
<line x1="638.9" y1="857.55" x2="633.4" y2="857.55" stroke="#111" stroke-width="1.9" />
<line x1="116.4" y1="733.4" x2="121.9" y2="733.4" stroke="#111" stroke-width="1.9" />
<line x1="638.9" y1="733.4" x2="633.4" y2="733.4" stroke="#111" stroke-width="1.9" />
<text x="106.78" y="1272.3" font-family='"Liberation Sans", sans-serif' font-size="33.5" fill="#000" xml:space="preserve">0</text>
<text x="223.72" y="1272.3" font-family='"Liberation Sans", sans-serif' font-size="33.5" fill="#000" xml:space="preserve">0.5</text>
<path d="M380.38,1248.75 L380.38,1272.3 L377.63,1272.3 L377.63,1255.65 L372.1,1255.65 L372.1,1253.47 C375.28,1253.34 377.36,1252.2 377.9,1248.75 Z" fill="#000"/>
<path d="M497.31,1248.75 L497.31,1272.3 L494.56,1272.3 L494.56,1255.65 L489.03,1255.65 L489.03,1253.47 C492.22,1253.34 494.29,1252.2 494.83,1248.75 Z" fill="#000"/>
<text x="504.15" y="1272.3" font-family='"Liberation Sans", sans-serif' font-size="33.5" fill="#000" xml:space="preserve">.5</text>
<text x="630.38" y="1272.3" font-family='"Liberation Sans", sans-serif' font-size="33.5" fill="#000" xml:space="preserve">2</text>
<text x="87.87" y="1242" font-family='"Liberation Sans", sans-serif' font-size="33.5" fill="#000" xml:space="preserve">0</text>
<text x="59.93" y="1117.85" font-family='"Liberation Sans", sans-serif' font-size="33.5" fill="#000" xml:space="preserve">0.5</text>
<path d="M99.66,970.15 L99.66,993.7 L96.91,993.7 L96.91,977.05 L91.39,977.05 L91.39,974.87 C94.57,974.74 96.65,973.6 97.18,970.15 Z" fill="#000"/>
<path d="M71.72,846 L71.72,869.55 L68.98,869.55 L68.98,852.9 L63.45,852.9 L63.45,850.72 C66.63,850.59 68.71,849.45 69.24,846 Z" fill="#000"/>
<text x="78.56" y="869.55" font-family='"Liberation Sans", sans-serif' font-size="33.5" fill="#000" xml:space="preserve">.5</text>
<text x="87.87" y="745.4" font-family='"Liberation Sans", sans-serif' font-size="33.5" fill="#000" xml:space="preserve">2</text>
<polyline points="116.1,728.9 142.28,744.3 168.46,782.5 194.64,826.2 220.82,868 247,901.6 273.18,931.8 299.36,956.3 325.54,978.8 351.72,996.8 377.9,1012.6 404.08,1026.2 430.26,1038.1 456.44,1048.1 482.62,1057.5 508.8,1065.4 534.98,1072.9 561.16,1079.1 587.34,1084.8 613.52,1089 639.7,1094" fill="none" stroke="#000" stroke-width="2.3" stroke-linejoin="round" />
<polyline points="116.1,821.6 142.28,816.5 168.46,803.1 194.64,789.3 220.82,779.4 247,781 273.18,794.8 299.36,819.6 325.54,848.9 351.72,879 377.9,908.4 404.08,933.9 430.26,957.5 456.44,978.1 482.62,994.7 508.8,1010.3 534.98,1024.5 561.16,1036.1 587.34,1046.8 613.52,1054.8 639.7,1063.7" fill="none" stroke="#fa0a1a" stroke-width="2.5" stroke-linejoin="round" />
<polyline points="116.1,948.3 142.28,939 168.46,920.4 194.64,892.6 220.82,860.7 247,826.6 273.18,798.8 299.36,787 325.54,787.9 351.72,803.5 377.9,829 404.08,857.7 430.26,886.8 456.44,914.1 482.62,939.6 508.8,961.2 534.98,980.3 561.16,997.2 587.34,1012.1 613.52,1025.8 639.7,1036.9" fill="none" stroke="#0a2aff" stroke-width="2.5" stroke-linejoin="round" />
<circle cx="116.1" cy="728.9" r="6.3" fill="none" stroke="#000" stroke-width="2.3"/>
<circle cx="142.28" cy="744.3" r="6.3" fill="none" stroke="#000" stroke-width="2.3"/>
<circle cx="168.46" cy="782.5" r="6.3" fill="none" stroke="#000" stroke-width="2.3"/>
<circle cx="194.64" cy="826.2" r="6.3" fill="none" stroke="#000" stroke-width="2.3"/>
<circle cx="220.82" cy="868" r="6.3" fill="none" stroke="#000" stroke-width="2.3"/>
<circle cx="247" cy="901.6" r="6.3" fill="none" stroke="#000" stroke-width="2.3"/>
<circle cx="273.18" cy="931.8" r="6.3" fill="none" stroke="#000" stroke-width="2.3"/>
<circle cx="299.36" cy="956.3" r="6.3" fill="none" stroke="#000" stroke-width="2.3"/>
<circle cx="325.54" cy="978.8" r="6.3" fill="none" stroke="#000" stroke-width="2.3"/>
<circle cx="351.72" cy="996.8" r="6.3" fill="none" stroke="#000" stroke-width="2.3"/>
<circle cx="377.9" cy="1012.6" r="6.3" fill="none" stroke="#000" stroke-width="2.3"/>
<circle cx="404.08" cy="1026.2" r="6.3" fill="none" stroke="#000" stroke-width="2.3"/>
<circle cx="430.26" cy="1038.1" r="6.3" fill="none" stroke="#000" stroke-width="2.3"/>
<circle cx="456.44" cy="1048.1" r="6.3" fill="none" stroke="#000" stroke-width="2.3"/>
<circle cx="482.62" cy="1057.5" r="6.3" fill="none" stroke="#000" stroke-width="2.3"/>
<circle cx="508.8" cy="1065.4" r="6.3" fill="none" stroke="#000" stroke-width="2.3"/>
<circle cx="534.98" cy="1072.9" r="6.3" fill="none" stroke="#000" stroke-width="2.3"/>
<circle cx="561.16" cy="1079.1" r="6.3" fill="none" stroke="#000" stroke-width="2.3"/>
<circle cx="587.34" cy="1084.8" r="6.3" fill="none" stroke="#000" stroke-width="2.3"/>
<circle cx="613.52" cy="1089" r="6.3" fill="none" stroke="#000" stroke-width="2.3"/>
<circle cx="639.7" cy="1094" r="6.3" fill="none" stroke="#000" stroke-width="2.3"/>
<rect x="110.65" y="816.15" width="10.9" height="10.9" fill="none" stroke="#fa0a1a" stroke-width="2.6"/>
<rect x="136.83" y="811.05" width="10.9" height="10.9" fill="none" stroke="#fa0a1a" stroke-width="2.6"/>
<rect x="163.01" y="797.65" width="10.9" height="10.9" fill="none" stroke="#fa0a1a" stroke-width="2.6"/>
<rect x="189.19" y="783.85" width="10.9" height="10.9" fill="none" stroke="#fa0a1a" stroke-width="2.6"/>
<rect x="215.37" y="773.95" width="10.9" height="10.9" fill="none" stroke="#fa0a1a" stroke-width="2.6"/>
<rect x="241.55" y="775.55" width="10.9" height="10.9" fill="none" stroke="#fa0a1a" stroke-width="2.6"/>
<rect x="267.73" y="789.35" width="10.9" height="10.9" fill="none" stroke="#fa0a1a" stroke-width="2.6"/>
<rect x="293.91" y="814.15" width="10.9" height="10.9" fill="none" stroke="#fa0a1a" stroke-width="2.6"/>
<rect x="320.09" y="843.45" width="10.9" height="10.9" fill="none" stroke="#fa0a1a" stroke-width="2.6"/>
<rect x="346.27" y="873.55" width="10.9" height="10.9" fill="none" stroke="#fa0a1a" stroke-width="2.6"/>
<rect x="372.45" y="902.95" width="10.9" height="10.9" fill="none" stroke="#fa0a1a" stroke-width="2.6"/>
<rect x="398.63" y="928.45" width="10.9" height="10.9" fill="none" stroke="#fa0a1a" stroke-width="2.6"/>
<rect x="424.81" y="952.05" width="10.9" height="10.9" fill="none" stroke="#fa0a1a" stroke-width="2.6"/>
<rect x="450.99" y="972.65" width="10.9" height="10.9" fill="none" stroke="#fa0a1a" stroke-width="2.6"/>
<rect x="477.17" y="989.25" width="10.9" height="10.9" fill="none" stroke="#fa0a1a" stroke-width="2.6"/>
<rect x="503.35" y="1004.85" width="10.9" height="10.9" fill="none" stroke="#fa0a1a" stroke-width="2.6"/>
<rect x="529.53" y="1019.05" width="10.9" height="10.9" fill="none" stroke="#fa0a1a" stroke-width="2.6"/>
<rect x="555.71" y="1030.65" width="10.9" height="10.9" fill="none" stroke="#fa0a1a" stroke-width="2.6"/>
<rect x="581.89" y="1041.35" width="10.9" height="10.9" fill="none" stroke="#fa0a1a" stroke-width="2.6"/>
<rect x="608.07" y="1049.35" width="10.9" height="10.9" fill="none" stroke="#fa0a1a" stroke-width="2.6"/>
<rect x="634.25" y="1058.25" width="10.9" height="10.9" fill="none" stroke="#fa0a1a" stroke-width="2.6"/>
<polygon points="116.1,941.1 108.7,954.3 123.5,954.3" fill="none" stroke="#0a2aff" stroke-width="2.7" stroke-linejoin="miter" stroke-miterlimit="2.01"/>
<polygon points="142.28,931.8 134.88,945 149.68,945" fill="none" stroke="#0a2aff" stroke-width="2.7" stroke-linejoin="miter" stroke-miterlimit="2.01"/>
<polygon points="168.46,913.2 161.06,926.4 175.86,926.4" fill="none" stroke="#0a2aff" stroke-width="2.7" stroke-linejoin="miter" stroke-miterlimit="2.01"/>
<polygon points="194.64,885.4 187.24,898.6 202.04,898.6" fill="none" stroke="#0a2aff" stroke-width="2.7" stroke-linejoin="miter" stroke-miterlimit="2.01"/>
<polygon points="220.82,853.5 213.42,866.7 228.22,866.7" fill="none" stroke="#0a2aff" stroke-width="2.7" stroke-linejoin="miter" stroke-miterlimit="2.01"/>
<polygon points="247,819.4 239.6,832.6 254.4,832.6" fill="none" stroke="#0a2aff" stroke-width="2.7" stroke-linejoin="miter" stroke-miterlimit="2.01"/>
<polygon points="273.18,791.6 265.78,804.8 280.58,804.8" fill="none" stroke="#0a2aff" stroke-width="2.7" stroke-linejoin="miter" stroke-miterlimit="2.01"/>
<polygon points="299.36,779.8 291.96,793 306.76,793" fill="none" stroke="#0a2aff" stroke-width="2.7" stroke-linejoin="miter" stroke-miterlimit="2.01"/>
<polygon points="325.54,780.7 318.14,793.9 332.94,793.9" fill="none" stroke="#0a2aff" stroke-width="2.7" stroke-linejoin="miter" stroke-miterlimit="2.01"/>
<polygon points="351.72,796.3 344.32,809.5 359.12,809.5" fill="none" stroke="#0a2aff" stroke-width="2.7" stroke-linejoin="miter" stroke-miterlimit="2.01"/>
<polygon points="377.9,821.8 370.5,835 385.3,835" fill="none" stroke="#0a2aff" stroke-width="2.7" stroke-linejoin="miter" stroke-miterlimit="2.01"/>
<polygon points="404.08,850.5 396.68,863.7 411.48,863.7" fill="none" stroke="#0a2aff" stroke-width="2.7" stroke-linejoin="miter" stroke-miterlimit="2.01"/>
<polygon points="430.26,879.6 422.86,892.8 437.66,892.8" fill="none" stroke="#0a2aff" stroke-width="2.7" stroke-linejoin="miter" stroke-miterlimit="2.01"/>
<polygon points="456.44,906.9 449.04,920.1 463.84,920.1" fill="none" stroke="#0a2aff" stroke-width="2.7" stroke-linejoin="miter" stroke-miterlimit="2.01"/>
<polygon points="482.62,932.4 475.22,945.6 490.02,945.6" fill="none" stroke="#0a2aff" stroke-width="2.7" stroke-linejoin="miter" stroke-miterlimit="2.01"/>
<polygon points="508.8,954 501.4,967.2 516.2,967.2" fill="none" stroke="#0a2aff" stroke-width="2.7" stroke-linejoin="miter" stroke-miterlimit="2.01"/>
<polygon points="534.98,973.1 527.58,986.3 542.38,986.3" fill="none" stroke="#0a2aff" stroke-width="2.7" stroke-linejoin="miter" stroke-miterlimit="2.01"/>
<polygon points="561.16,990 553.76,1003.2 568.56,1003.2" fill="none" stroke="#0a2aff" stroke-width="2.7" stroke-linejoin="miter" stroke-miterlimit="2.01"/>
<polygon points="587.34,1004.9 579.94,1018.1 594.74,1018.1" fill="none" stroke="#0a2aff" stroke-width="2.7" stroke-linejoin="miter" stroke-miterlimit="2.01"/>
<polygon points="613.52,1018.6 606.12,1031.8 620.92,1031.8" fill="none" stroke="#0a2aff" stroke-width="2.7" stroke-linejoin="miter" stroke-miterlimit="2.01"/>
<polygon points="639.7,1029.7 632.3,1042.9 647.1,1042.9" fill="none" stroke="#0a2aff" stroke-width="2.7" stroke-linejoin="miter" stroke-miterlimit="2.01"/>
<line x1="136.2" y1="1081.4" x2="176.7" y2="1081.4" stroke="#000" stroke-width="2.3" />
<circle cx="156.3" cy="1081.4" r="6.3" fill="none" stroke="#000" stroke-width="2.3"/>
<text x="180.35" y="1094.5" font-family='"Liberation Sans", sans-serif' font-size="33.5" fill="#000" xml:space="preserve">V=0</text>
<line x1="136.2" y1="1130" x2="176.7" y2="1130" stroke="#fa0a1a" stroke-width="2.5" />
<rect x="150.85" y="1124.55" width="10.9" height="10.9" fill="none" stroke="#fa0a1a" stroke-width="2.6"/>
<text x="180.35" y="1134.9" font-family='"Liberation Sans", sans-serif' font-size="33.5" fill="#000" xml:space="preserve">V=0.6t</text>
<text x="279.53" y="1151.9" font-family='"Liberation Sans", sans-serif' font-size="25.5" fill="#000" xml:space="preserve">h</text>
<line x1="136.2" y1="1186.2" x2="176.7" y2="1186.2" stroke="#0a2aff" stroke-width="2.5" />
<polygon points="156.3,1177.4 148.9,1190.6 163.7,1190.6" fill="none" stroke="#0a2aff" stroke-width="2.7" stroke-linejoin="miter" stroke-miterlimit="2.01"/>
<text x="180.35" y="1191.2" font-family='"Liberation Sans", sans-serif' font-size="33.5" fill="#000" xml:space="preserve">V=0.8t</text>
<text x="279.53" y="1208.2" font-family='"Liberation Sans", sans-serif' font-size="25.5" fill="#000" xml:space="preserve">h</text>
<text x="254.78" y="1321.5" font-family='"Liberation Sans", sans-serif' font-size="33.5" fill="#000" xml:space="preserve">magnetic field</text>
<text x="477.34" y="1321.8" font-family='"Liberation Sans", sans-serif' font-size="33.5" fill="#000" font-style="italic" xml:space="preserve">h</text>
<text x="496.83" y="1327.3" font-family='"Liberation Sans", sans-serif' font-size="23" fill="#000" font-style="italic" xml:space="preserve">z</text>
<text x="599.28" y="1321.8" font-family='"Liberation Sans", sans-serif' font-size="34" fill="#000" xml:space="preserve">[</text>
<text x="607.06" y="1321.8" font-family='"Liberation Sans", sans-serif' font-size="34" fill="#000" font-style="italic" xml:space="preserve">t</text>
<text x="619.14" y="1327.8" font-family='"Liberation Sans", sans-serif' font-size="22.5" fill="#000" xml:space="preserve">h</text>
<text x="636.03" y="1321.8" font-family='"Liberation Sans", sans-serif' font-size="34" fill="#000" xml:space="preserve">]</text>
<g transform="rotate(-90 31 1144.44)">
<text x="31" y="1144.44" font-family='"Liberation Sans", sans-serif' font-size="34" fill="#000" xml:space="preserve">conductance</text>
</g>
<g transform="rotate(-90 30.8 925)">
<text x="30.8" y="925" font-family='"Liberation Sans", sans-serif' font-size="34.5" fill="#000" font-style="italic" xml:space="preserve">G</text>
</g>
<g transform="rotate(-90 29.8 843.62)">
<text x="29.8" y="843.62" font-family='"Liberation Sans", sans-serif' font-size="32.5" fill="#000" xml:space="preserve">[</text>
</g>
<g transform="rotate(-90 29.8 836.58)">
<text x="29.8" y="836.58" font-family='"Liberation Sans", sans-serif' font-size="32.5" fill="#000" xml:space="preserve">e</text>
</g>
<g transform="rotate(-90 14.6 817.91)">
<text x="14.6" y="817.91" font-family='"Liberation Sans", sans-serif' font-size="20" fill="#000" xml:space="preserve">2</text>
</g>
<g transform="rotate(-90 29.8 808.8)">
<text x="29.8" y="808.8" font-family='"Liberation Sans", sans-serif' font-size="32.5" fill="#000" xml:space="preserve">/</text>
</g>
<g transform="rotate(-90 29.8 798.44)">
<text x="29.8" y="798.44" font-family='"Liberation Sans", sans-serif' font-size="32.5" fill="#000" font-style="italic" xml:space="preserve">h</text>
</g>
<g transform="rotate(-90 29.8 778.55)">
<text x="29.8" y="778.55" font-family='"Liberation Sans", sans-serif' font-size="32.5" fill="#000" xml:space="preserve">]</text>
</g>
<text x="6.6" y="725.7" font-family='"Liberation Serif", serif' font-size="41" fill="#000" font-weight="bold" letter-spacing="2.0" xml:space="preserve">(d)</text>
<rect x="835.8" y="708.7" width="521.7" height="522.2" fill="none" stroke="#111" stroke-width="2.0"/>
<line x1="953.54" y1="1230.9" x2="953.54" y2="1225.4" stroke="#111" stroke-width="1.9" />
<line x1="953.54" y1="708.7" x2="953.54" y2="714.2" stroke="#111" stroke-width="1.9" />
<line x1="1072.18" y1="1230.9" x2="1072.18" y2="1225.4" stroke="#111" stroke-width="1.9" />
<line x1="1072.18" y1="708.7" x2="1072.18" y2="714.2" stroke="#111" stroke-width="1.9" />
<line x1="1190.82" y1="1230.9" x2="1190.82" y2="1225.4" stroke="#111" stroke-width="1.9" />
<line x1="1190.82" y1="708.7" x2="1190.82" y2="714.2" stroke="#111" stroke-width="1.9" />
<line x1="1309.46" y1="1230.9" x2="1309.46" y2="1225.4" stroke="#111" stroke-width="1.9" />
<line x1="1309.46" y1="708.7" x2="1309.46" y2="714.2" stroke="#111" stroke-width="1.9" />
<line x1="835.8" y1="1218" x2="841.3" y2="1218" stroke="#111" stroke-width="1.9" />
<line x1="1357.5" y1="1218" x2="1352" y2="1218" stroke="#111" stroke-width="1.9" />
<line x1="835.8" y1="1129.3" x2="841.3" y2="1129.3" stroke="#111" stroke-width="1.9" />
<line x1="1357.5" y1="1129.3" x2="1352" y2="1129.3" stroke="#111" stroke-width="1.9" />
<line x1="835.8" y1="1040.6" x2="841.3" y2="1040.6" stroke="#111" stroke-width="1.9" />
<line x1="1357.5" y1="1040.6" x2="1352" y2="1040.6" stroke="#111" stroke-width="1.9" />
<line x1="835.8" y1="951.9" x2="841.3" y2="951.9" stroke="#111" stroke-width="1.9" />
<line x1="1357.5" y1="951.9" x2="1352" y2="951.9" stroke="#111" stroke-width="1.9" />
<line x1="835.8" y1="863.2" x2="841.3" y2="863.2" stroke="#111" stroke-width="1.9" />
<line x1="1357.5" y1="863.2" x2="1352" y2="863.2" stroke="#111" stroke-width="1.9" />
<line x1="835.8" y1="774.5" x2="841.3" y2="774.5" stroke="#111" stroke-width="1.9" />
<line x1="1357.5" y1="774.5" x2="1352" y2="774.5" stroke="#111" stroke-width="1.9" />
<text x="826.68" y="1272.6" font-family='"Liberation Sans", sans-serif' font-size="33.5" fill="#000" xml:space="preserve">0</text>
<text x="944.22" y="1272.6" font-family='"Liberation Sans", sans-serif' font-size="33.5" fill="#000" xml:space="preserve">2</text>
<text x="1062.86" y="1272.6" font-family='"Liberation Sans", sans-serif' font-size="33.5" fill="#000" xml:space="preserve">4</text>
<text x="1181.5" y="1272.6" font-family='"Liberation Sans", sans-serif' font-size="33.5" fill="#000" xml:space="preserve">6</text>
<text x="1300.14" y="1272.6" font-family='"Liberation Sans", sans-serif' font-size="33.5" fill="#000" xml:space="preserve">8</text>
<text x="806.97" y="1230" font-family='"Liberation Sans", sans-serif' font-size="33.5" fill="#000" xml:space="preserve">0</text>
<text x="779.03" y="1141.3" font-family='"Liberation Sans", sans-serif' font-size="33.5" fill="#000" xml:space="preserve">0.2</text>
<text x="779.03" y="1052.6" font-family='"Liberation Sans", sans-serif' font-size="33.5" fill="#000" xml:space="preserve">0.4</text>
<text x="779.03" y="963.9" font-family='"Liberation Sans", sans-serif' font-size="33.5" fill="#000" xml:space="preserve">0.6</text>
<text x="779.03" y="875.2" font-family='"Liberation Sans", sans-serif' font-size="33.5" fill="#000" xml:space="preserve">0.8</text>
<path d="M818.76,762.95 L818.76,786.5 L816.01,786.5 L816.01,769.85 L810.49,769.85 L810.49,767.67 C813.67,767.54 815.75,766.4 816.28,762.95 Z" fill="#000"/>
<path d="M836,774.5 C837,777.1 840,781.23 842,790.1 C844,798.97 846.23,816.42 848,827.7 C849.77,838.98 850.83,847.27 852.6,857.8 C854.37,868.33 856.6,881.62 858.6,890.9 C860.6,900.18 862.6,908.23 864.6,913.5 C866.6,918.77 868.58,920.62 870.6,922.5 C872.62,924.38 874.68,924.8 876.7,924.8 C878.72,924.8 879.95,924.25 882.7,922.5 C885.45,920.75 889.95,916.23 893.2,914.3 C896.45,912.37 898.93,911.03 902.2,910.9 C905.47,910.77 908.53,912.43 912.8,913.5 C917.07,914.57 923.03,916.55 927.8,917.3 C932.57,918.05 936.38,918.13 941.4,918 C946.42,917.87 952.63,917.12 957.9,916.5 C963.17,915.88 967.98,915.08 973,914.3 C978.02,913.52 983.5,912.1 988,911.8 C992.5,911.5 997.12,912.27 1000,912.5 C1002.88,912.73 1003.08,913.42 1005.3,913.2 C1007.52,912.98 1010.2,912.08 1013.3,911.2 C1016.4,910.32 1019.48,908.38 1023.9,907.9 C1028.32,907.42 1033.85,908.75 1039.8,908.3 C1045.75,907.85 1052.98,905.38 1059.6,905.2 C1066.22,905.02 1071.77,906.87 1079.5,907.2 C1087.23,907.53 1096.05,907.3 1106,907.2 C1115.95,907.1 1126.87,906.63 1139.2,906.6 C1151.53,906.57 1169.58,906.75 1180,907 C1190.42,907.25 1194.37,908.25 1201.7,908.1 C1209.03,907.95 1216.95,906.05 1224,906.1 C1231.05,906.15 1232.37,908.27 1244,908.4 C1255.63,908.53 1274.97,907.07 1293.8,906.9 C1312.63,906.73 1346.47,907.32 1357,907.4" fill="none" stroke="#000" stroke-width="2.4" stroke-linejoin="round" />
<path d="M836,774.5 C837,777.42 840,783.08 842,792 C844,800.92 846.17,817 848,828 C849.83,839 851.22,846 853,858 C854.78,870 856.78,887.9 858.7,900 C860.62,912.1 862.58,921.67 864.5,930.6 C866.42,939.53 868.45,948.37 870.2,953.6 C871.95,958.83 873.4,960.25 875,962 C876.6,963.75 878.05,963.65 879.8,964.1 C881.55,964.55 883.3,965.05 885.5,964.7 C887.7,964.35 890.45,962.88 893,962 C895.55,961.12 898.22,959.52 900.8,959.4 C903.38,959.28 905.3,959.72 908.5,961.3 C911.7,962.88 916.82,966.98 920,968.9 C923.18,970.82 923.45,971.2 927.6,972.8 C931.75,974.4 938.83,977.17 944.9,978.5 C950.97,979.83 956.98,980.73 964,980.8 C971.02,980.87 979.02,978.8 987,978.9 C994.98,979 1003.92,980.9 1011.9,981.4 C1019.88,981.9 1029.55,981.87 1034.9,981.9 C1040.25,981.93 1040.15,982.28 1044,981.6 C1047.85,980.92 1053.47,978.38 1058,977.8 C1062.53,977.22 1066.12,977.6 1071.2,978.1 C1076.28,978.6 1084.4,980.3 1088.5,980.8 C1092.6,981.3 1092.22,981.32 1095.8,981.1 C1099.38,980.88 1100.97,979.77 1110,979.5 C1119.03,979.23 1135,979.5 1150,979.5 C1165,979.5 1187.42,979.8 1200,979.5 C1212.58,979.2 1217.17,977.7 1225.5,977.7 C1233.83,977.7 1228.08,979.2 1250,979.5 C1271.92,979.8 1339.17,979.5 1357,979.5" fill="none" stroke="#fa0a1a" stroke-width="3.0" stroke-linejoin="round" stroke-dasharray="10.6 11" stroke-dashoffset="-3"/>
<path d="M836,774.5 C836.83,777.08 839.33,781.58 841,790 C842.67,798.42 844.33,813.67 846,825 C847.67,836.33 849.5,848 851,858 C852.5,868 853.72,876.4 855,885 C856.28,893.6 857.28,899.77 858.7,909.6 C860.12,919.43 861.58,931.23 863.5,944 C865.42,956.77 868.12,976.3 870.2,986.2 C872.28,996.1 874.37,999.43 876,1003.4 C877.63,1007.37 878.18,1008 880,1010 C881.82,1012 885.02,1014.2 886.9,1015.4 C888.78,1016.6 889.05,1016.52 891.3,1017.2 C893.55,1017.88 897.22,1018.3 900.4,1019.5 C903.58,1020.7 906.82,1021.67 910.4,1024.4 C913.98,1027.13 917.75,1031.42 921.9,1035.9 C926.05,1040.38 930.83,1047.15 935.3,1051.3 C939.77,1055.45 943.27,1057.78 948.7,1060.8 C954.13,1063.82 961.52,1067.32 967.9,1069.4 C974.28,1071.48 979.67,1071.53 987,1073.3 C994.33,1075.07 1006.47,1078.37 1011.9,1080 C1017.33,1081.63 1014.25,1081.58 1019.6,1083.1 C1024.95,1084.62 1036.33,1088.28 1044,1089.1 C1051.67,1089.92 1059.6,1087.85 1065.6,1088 C1071.6,1088.15 1073.83,1088.8 1080,1090 C1086.17,1091.2 1091.32,1094.33 1102.6,1095.2 C1113.88,1096.07 1130.4,1094.93 1147.7,1095.2 C1165,1095.47 1193.23,1096.72 1206.4,1096.8 C1219.57,1096.88 1214.67,1095.43 1226.7,1095.7 C1238.73,1095.97 1265.45,1098.22 1278.6,1098.4 C1291.75,1098.58 1292.53,1096.77 1305.6,1096.8 C1318.67,1096.83 1348.43,1098.3 1357,1098.6" fill="none" stroke="#0a2aff" stroke-width="3.2" stroke-linejoin="round" stroke-dasharray="10.5 2.6 5.4 3.1" stroke-dashoffset="-3"/>
<path d="M836,774.5 C836.83,777.08 839.33,781.58 841,790 C842.67,798.42 844.5,814.17 846,825 C847.5,835.83 848.6,845.83 850,855 C851.4,864.17 852.77,866.8 854.4,880 C856.03,893.2 858,916.15 859.8,934.2 C861.6,952.25 863.17,972.5 865.2,988.3 C867.23,1004.1 869.52,1016.35 872,1029 C874.48,1041.65 877.4,1055.63 880.1,1064.2 C882.8,1072.77 884.58,1075.43 888.2,1080.4 C891.82,1085.37 897.95,1089.93 901.8,1094 C905.65,1098.07 907.47,1098.93 911.3,1104.8 C915.13,1110.67 920.3,1121.52 924.8,1129.2 C929.3,1136.88 933.33,1144.58 938.3,1150.9 C943.27,1157.22 948.72,1162.15 954.6,1167.1 C960.48,1172.05 967.28,1176.53 973.6,1180.6 C979.92,1184.67 985.73,1188.1 992.5,1191.5 C999.27,1194.9 1006.97,1198.07 1014.2,1201 C1021.43,1203.93 1030.48,1207.3 1035.9,1209.1 C1041.32,1210.9 1041.75,1211.48 1046.7,1211.8 C1051.65,1212.12 1060.05,1210.8 1065.6,1211 C1071.15,1211.2 1072.72,1211.83 1080,1213 C1087.28,1214.17 1094.25,1217.25 1109.3,1218 C1124.35,1218.75 1150.73,1217.88 1170.3,1217.5 C1189.87,1217.12 1208.65,1215.43 1226.7,1215.7 C1244.75,1215.97 1265.45,1218.8 1278.6,1219.1 C1291.75,1219.4 1292.53,1217.77 1305.6,1217.5 C1318.67,1217.23 1348.43,1217.5 1357,1217.5" fill="none" stroke="#3cee28" stroke-width="3.2" stroke-linejoin="round" stroke-dasharray="3 2.4"/>
<line x1="1191.6" y1="747.1" x2="1232" y2="747.1" stroke="#000" stroke-width="2.6" />
<line x1="1191.6" y1="792.6" x2="1232" y2="792.6" stroke="#fa0a1a" stroke-width="3.0" stroke-dasharray="10.6 11"/>
<line x1="1191.6" y1="838.4" x2="1232" y2="838.4" stroke="#0a2aff" stroke-width="3.3" stroke-dasharray="10.5 2.6 5.4 3.1"/>
<line x1="1191.6" y1="884" x2="1232" y2="884" stroke="#3cee28" stroke-width="3.3" stroke-dasharray="3 2.4"/>
<text x="1235.83" y="750.9" font-family='"Liberation Sans", sans-serif' font-size="27" fill="#000" xml:space="preserve">h</text>
<text x="1251.47" y="764.7" font-family='"Liberation Sans", sans-serif' font-size="20.5" fill="#000" xml:space="preserve">z</text>
<text x="1262.68" y="750.9" font-family='"Liberation Sans", sans-serif' font-size="27" fill="#000" xml:space="preserve">=</text>
<path d="M1287.95,731.92 L1287.95,750.9 L1285.74,750.9 L1285.74,737.48 L1281.28,737.48 L1281.28,735.73 C1283.85,735.62 1285.52,734.7 1285.96,731.92 Z" fill="#000"/>
<text x="1293.47" y="750.9" font-family='"Liberation Sans", sans-serif' font-size="27" fill="#000" xml:space="preserve">.5t</text>
<text x="1325.38" y="764.7" font-family='"Liberation Sans", sans-serif' font-size="20.5" fill="#000" xml:space="preserve">h</text>
<text x="1235.83" y="796.3" font-family='"Liberation Sans", sans-serif' font-size="27" fill="#000" xml:space="preserve">h</text>
<text x="1251.47" y="810.1" font-family='"Liberation Sans", sans-serif' font-size="20.5" fill="#000" xml:space="preserve">z</text>
<text x="1262.68" y="796.3" font-family='"Liberation Sans", sans-serif' font-size="27" fill="#000" xml:space="preserve">=t</text>
<text x="1287.68" y="810.1" font-family='"Liberation Sans", sans-serif' font-size="20.5" fill="#000" xml:space="preserve">h</text>
<text x="1235.83" y="841.4" font-family='"Liberation Sans", sans-serif' font-size="27" fill="#000" xml:space="preserve">h</text>
<text x="1251.47" y="855.2" font-family='"Liberation Sans", sans-serif' font-size="20.5" fill="#000" xml:space="preserve">z</text>
<text x="1262.68" y="841.4" font-family='"Liberation Sans", sans-serif' font-size="27" fill="#000" xml:space="preserve">=0.5t</text>
<text x="1325.28" y="855.2" font-family='"Liberation Sans", sans-serif' font-size="20.5" fill="#000" xml:space="preserve">h</text>
<text x="1235.83" y="887.3" font-family='"Liberation Sans", sans-serif' font-size="27" fill="#000" xml:space="preserve">h</text>
<text x="1251.47" y="901.1" font-family='"Liberation Sans", sans-serif' font-size="20.5" fill="#000" xml:space="preserve">z</text>
<text x="1262.68" y="887.3" font-family='"Liberation Sans", sans-serif' font-size="27" fill="#000" xml:space="preserve">=0</text>
<g transform="rotate(-90 752.5 1095.09)">
<text x="752.5" y="1095.09" font-family='"Liberation Sans", sans-serif' font-size="33" fill="#000" xml:space="preserve">magnetization</text>
</g>
<text x="1075.56" y="1321.7" font-family='"Liberation Sans", sans-serif' font-size="34" fill="#000" font-style="italic" xml:space="preserve">t</text>
<text x="1085.95" y="1321.7" font-family='"Liberation Sans", sans-serif' font-size="34" fill="#000" font-style="italic" xml:space="preserve">T</text>
<text x="1105.55" y="1330" font-family='"Liberation Sans", sans-serif' font-size="25" fill="#000" xml:space="preserve">K</text>
<text x="732.9" y="730.3" font-family='"Liberation Serif", serif' font-size="41" fill="#000" font-weight="bold" xml:space="preserve">(e)</text>
</g>
</svg></body></html>
